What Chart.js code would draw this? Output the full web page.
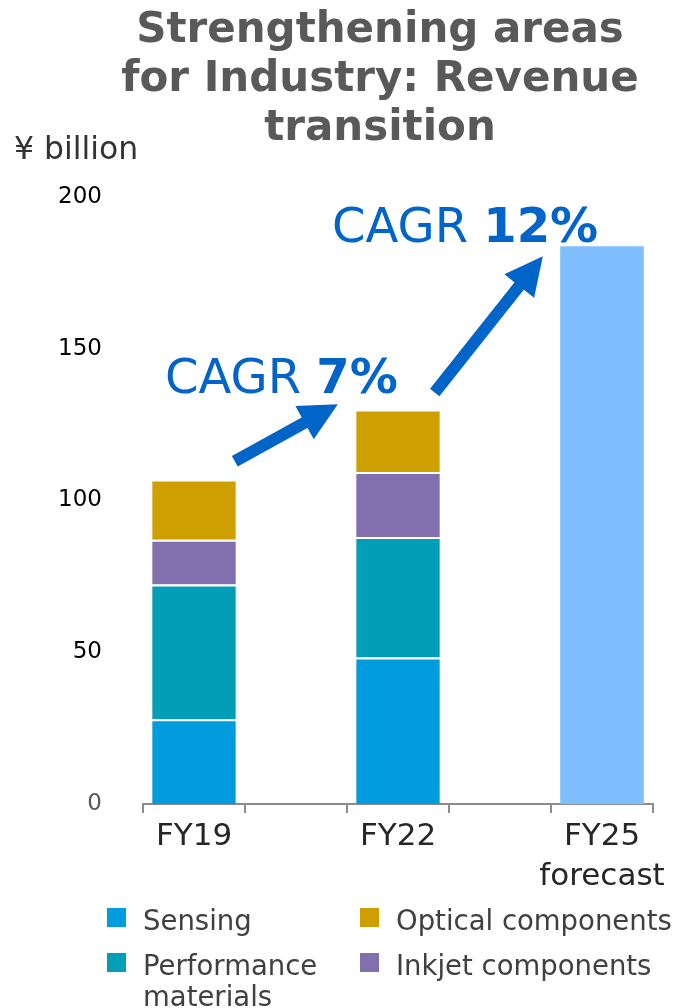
<!DOCTYPE html>
<html>
<head>
<meta charset="utf-8">
<script src="https://cdn.jsdelivr.net/npm/chart.js@4.4.0/dist/chart.umd.min.js"></script>
<style>
  html, body { margin: 0; padding: 0; background: #fff; }
  #c { display: block; }
</style>
</head>
<body>
<canvas id="c" width="677" height="1008"></canvas>
<script>
// values in ¥ billion
const categories = ['FY19', '', 'FY22', '', ['FY25', 'forecast']];
const sensing = [27.9, null, 48.3, null, null];
const performance = [44.4, null, 39.7, null, null];
const inkjet = [14.8, null, 21.4, null, null];
const optical = [19.8, null, 20.6, null, null];
const forecast = [null, null, null, null, 183.8];
const yTicks = [0, 50, 100, 150, 200];
const titleLines = ['Strengthening areas', 'for Industry: Revenue', 'transition'];
const cagrTexts = [['CAGR ', '7%'], ['CAGR ', '12%']];

Chart.defaults.font.family = "'DejaVu Sans', Verdana, sans-serif";

const blue = '#0064c8';

function arrow(ctx, x1, y1, x2, y2) {
  const a = Math.atan2(y2 - y1, x2 - x1);
  const head = 38, half = 19;
  const bx = x2 - head * Math.cos(a), by = y2 - head * Math.sin(a);
  ctx.save();
  ctx.strokeStyle = blue;
  ctx.fillStyle = blue;
  ctx.lineWidth = 12;
  ctx.beginPath();
  ctx.moveTo(x1, y1);
  ctx.lineTo(bx + 2 * Math.cos(a), by + 2 * Math.sin(a));
  ctx.stroke();
  ctx.beginPath();
  ctx.moveTo(x2, y2);
  ctx.lineTo(bx - half * Math.sin(a), by + half * Math.cos(a));
  ctx.lineTo(bx + half * Math.sin(a), by - half * Math.cos(a));
  ctx.closePath();
  ctx.fill();
  ctx.restore();
}

const extras = {
  id: 'extras',
  afterDraw(chart) {
    const ctx = chart.ctx;
    const x = chart.scales.x, y = chart.scales.y;
    ctx.save();

    // title
    ctx.fillStyle = '#595959';
    ctx.font = "bold 42px 'DejaVu Sans'";
    ctx.textAlign = 'center';
    ctx.textBaseline = 'alphabetic';
    titleLines.forEach((t, i) => ctx.fillText(t, 380, 42 + i * 49));

    // unit
    ctx.fillStyle = '#333';
    ctx.font = "31.5px 'DejaVu Sans'";
    ctx.textAlign = 'left';
    ctx.fillText('¥ billion', 14, 159);

    // CAGR labels
    const cagrPos = [[165, 393], [332, 242]];
    cagrTexts.forEach((t, i) => {
      ctx.fillStyle = blue;
      ctx.font = "48px 'DejaVu Sans'";
      ctx.fillText(t[0], cagrPos[i][0], cagrPos[i][1]);
      const w = ctx.measureText(t[0]).width;
      ctx.font = "bold 48px 'DejaVu Sans'";
      ctx.fillText(t[1], cagrPos[i][0] + w, cagrPos[i][1]);
    });

    // arrows, placed in scale units
    arrow(ctx, x.getPixelForValue(0.40), y.getPixelForValue(112.9),
               x.getPixelForValue(1.41), y.getPixelForValue(131.7));
    arrow(ctx, x.getPixelForValue(2.36), y.getPixelForValue(135.6),
               x.getPixelForValue(3.42), y.getPixelForValue(180.5));

    // legend, two columns: [dataset, marker x, baseline, wrap width]
    const order = [[0, 107, 930, 200], [3, 360, 930, 400], [1, 107, 975, 200], [2, 360, 975, 400]];
    ctx.font = "27.5px 'DejaVu Sans'";
    ctx.textBaseline = 'alphabetic';
    order.forEach(([di, lx, ly, maxW]) => {
      const ds = chart.data.datasets[di];
      ctx.fillStyle = ds.backgroundColor;
      ctx.fillRect(lx, ly - 22, 19, 19);
      ctx.fillStyle = '#404040';
      const words = ds.label.split(' ');
      let lines = [ds.label];
      if (ctx.measureText(ds.label).width > maxW) lines = [words[0], words.slice(1).join(' ')];
      lines.forEach((l, k) => ctx.fillText(l, lx + 36, ly + k * 31));
    });

    ctx.restore();
  }
};

const barStyle = {
  stack: 'rev',
  borderColor: '#ffffff',
  borderWidth: { top: 2, right: 0, bottom: 0, left: 0 },
  borderSkipped: 'start'
};

new Chart(document.getElementById('c'), {
  type: 'bar',
  data: {
    labels: categories,
    datasets: [
      Object.assign({ label: 'Sensing', data: sensing, backgroundColor: '#009cde' }, barStyle),
      Object.assign({ label: 'Performance materials', data: performance, backgroundColor: '#009fb7' }, barStyle),
      Object.assign({ label: 'Inkjet components', data: inkjet, backgroundColor: '#826fae' }, barStyle),
      Object.assign({ label: 'Optical components', data: optical, backgroundColor: '#cda000' }, barStyle),
      { label: 'FY25 forecast', data: forecast, backgroundColor: '#80bfff', stack: 'rev', borderWidth: 0 }
    ]
  },
  options: {
    responsive: false,
    animation: false,
    devicePixelRatio: 1,
    layout: { padding: { top: 197, right: 24, left: 0, bottom: 0 } },
    datasets: { bar: { barPercentage: 0.82, categoryPercentage: 1 } },
    plugins: { legend: { display: false }, tooltip: { enabled: false }, title: { display: false } },
    scales: {
      x: {
        stacked: true,
        grid: { offset: true, drawOnChartArea: false, drawTicks: true, tickLength: 9, color: '#8c8c8c', lineWidth: 2 },
        border: { display: true, color: '#8c8c8c', width: 2 },
        ticks: { color: '#262626', font: { size: 31, lineHeight: 1.3 }, padding: 4, maxRotation: 0, autoSkip: false },
        afterFit: s => { s.height = 204; }
      },
      y: {
        stacked: true,
        min: 0,
        max: 200,
        afterBuildTicks: s => { s.ticks = yTicks.map(v => ({ value: v })); },
        ticks: {
          padding: 33,
          font: { size: 23 },
          color: c => (c.tick.value === 0 ? '#595959' : '#000')
        },
        grid: { display: false },
        border: { display: false },
        afterFit: s => { s.width = 143; }
      }
    }
  },
  plugins: [extras]
});
</script>
</body>
</html>
